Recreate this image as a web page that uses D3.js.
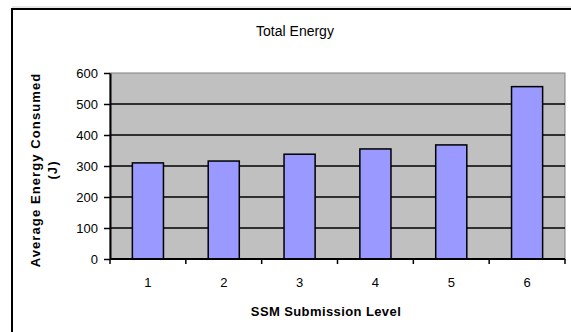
<!DOCTYPE html>
<html>
<head>
<meta charset="utf-8">
<script src="https://d3js.org/d3.v7.min.js"></script>
<style>
  body { margin: 0; background: #fff; }
  svg { display: block; font-family: "Liberation Sans", Arial, sans-serif; }
</style>
</head>
<body>
<div id="chart"></div>
<script>
// data
const levels = ["1", "2", "3", "4", "5", "6"];
const energy = [310, 316, 338, 355, 368, 556];
const yTicks = [0, 100, 200, 300, 400, 500, 600];

const W = 571, H = 332;
const plot = { left: 110, right: 565, top: 73, bottom: 259 };

const svg = d3.select("#chart").append("svg")
    .attr("width", W)
    .attr("height", H);

// outer frame (runs off the right and bottom edge)
svg.append("line")
    .attr("x1", 12).attr("x2", W + 5)
    .attr("y1", 7).attr("y2", 7)
    .attr("stroke", "#d0d0d0").attr("stroke-width", 1);
svg.append("rect")
    .attr("x", 12).attr("y", 9)
    .attr("width", W + 10).attr("height", H + 10)
    .attr("fill", "none")
    .attr("stroke", "#000").attr("stroke-width", 2);

// scales
const x = d3.scaleBand()
    .domain(levels)
    .range([plot.left, plot.right])
    .paddingInner(0.59)
    .paddingOuter(0.295);

const xCat = d3.scaleBand()
    .domain(levels)
    .range([plot.left, plot.right]);

const y = d3.scaleLinear()
    .domain([0, 600])
    .range([plot.bottom, plot.top]);

// plot area
svg.append("rect")
    .attr("x", plot.left).attr("y", plot.top)
    .attr("width", plot.right - plot.left).attr("height", plot.bottom - plot.top)
    .attr("fill", "#c0c0c0")
    .attr("stroke", "#808080").attr("stroke-width", 1);

// gridlines
svg.append("g")
    .selectAll("line")
    .data(yTicks.filter(d => d > 0 && d < 600))
    .enter().append("line")
        .attr("x1", plot.left).attr("x2", plot.right)
        .attr("y1", d => y(d)).attr("y2", d => y(d))
        .attr("stroke", "#000").attr("stroke-width", 1.5);

// bars
svg.append("g")
    .selectAll("rect")
    .data(energy)
    .enter().append("rect")
        .attr("x", (d, i) => x(levels[i]))
        .attr("y", d => y(d))
        .attr("width", x.bandwidth())
        .attr("height", d => y(0) - y(d))
        .attr("fill", "#9999ff")
        .attr("stroke", "#000").attr("stroke-width", 1.5);

// y axis
const yAxis = svg.append("g")
    .attr("transform", `translate(${plot.left},0)`)
    .call(d3.axisLeft(y).tickValues(yTicks).tickSizeInner(6).tickSizeOuter(0).tickPadding(6));
yAxis.select(".domain").attr("stroke-width", 2);
yAxis.selectAll(".tick line").attr("stroke-width", 1.5);
yAxis.selectAll("text").style("font-size", "13px").attr("fill", "#000");

// x axis, ticks on category boundaries
const xAxis = svg.append("g")
    .attr("transform", `translate(0,${plot.bottom})`);
xAxis.append("line")
    .attr("x1", plot.left).attr("x2", plot.right)
    .attr("stroke", "#000").attr("stroke-width", 2);
xAxis.selectAll("line.tick")
    .data(levels.map(l => xCat(l)).concat([plot.right]))
    .enter().append("line")
        .attr("class", "tick")
        .attr("x1", d => d).attr("x2", d => d)
        .attr("y1", 0).attr("y2", 5)
        .attr("stroke", "#000").attr("stroke-width", 1.5);
xAxis.selectAll("text")
    .data(levels)
    .enter().append("text")
        .attr("x", d => xCat(d) + xCat.bandwidth() / 2)
        .attr("y", 28)
        .attr("text-anchor", "middle")
        .style("font-size", "13px")
        .text(d => d);

// title
svg.append("text")
    .attr("x", 295).attr("y", 36)
    .attr("text-anchor", "middle")
    .style("font-size", "14px")
    .text("Total Energy");

// x axis title
svg.append("text")
    .attr("x", 326).attr("y", 316)
    .attr("text-anchor", "middle")
    .style("font-size", "13px")
    .style("font-weight", "bold")
    .style("letter-spacing", "0.4px")
    .text("SSM Submission Level");

// y axis title, two lines
const yt = svg.append("text")
    .attr("transform", `translate(40,${(plot.top + plot.bottom) / 2 + 4}) rotate(-90)`)
    .attr("text-anchor", "middle")
    .style("font-size", "13px")
    .style("font-weight", "bold")
    .style("letter-spacing", "1.1px");
yt.append("tspan").attr("x", 0).attr("dy", 0).text("Average Energy Consumed");
yt.append("tspan").attr("x", 0).attr("dy", "1.3em").text("(J)");
</script>
</body>
</html>
